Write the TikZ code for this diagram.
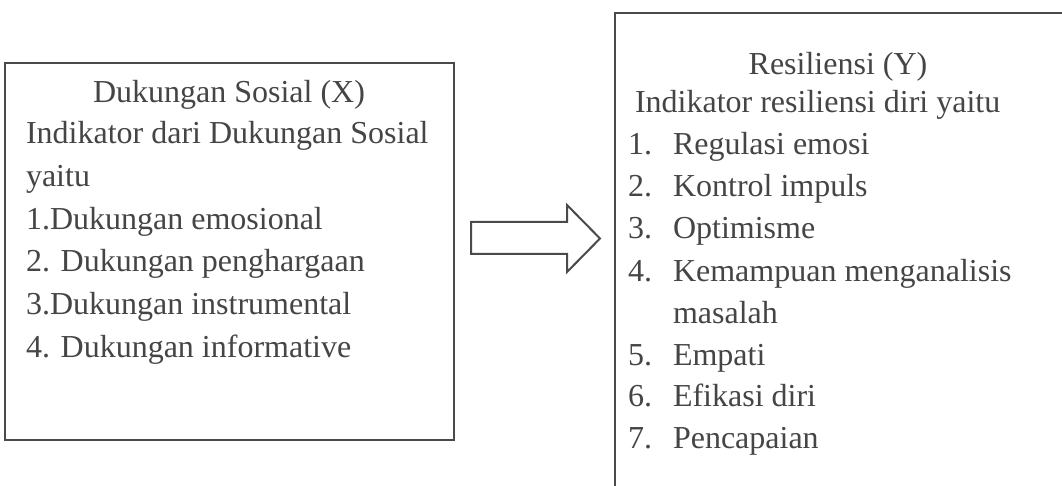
\documentclass[tikz,border=0pt]{standalone}
\usepackage{fontspec}
\setmainfont{Liberation Serif}
\definecolor{txt}{HTML}{454545}
\definecolor{edge}{HTML}{4A4A4A}
\begin{document}
\begin{tikzpicture}[x=1pt,y=1pt,
  every node/.style={inner sep=0pt, outer sep=0pt, text=txt, font=\fontsize{32}{38}\selectfont},
  panel/.style={draw=edge, line width=2.3pt, anchor=north west, fill=none},
  lt/.style={anchor=base west},
  ct/.style={anchor=base},
  blockarrow/.style={draw=edge, line width=2pt, line join=miter}]
\useasboundingbox (0,0) rectangle (1062,-486);
\clip (0,0) rectangle (1062,-486);
\fill[white] (0,0) rectangle (1062,-486);
% boxes
\node[panel, minimum width=449pt, minimum height=377pt] (lbox) at (5,-63) {};
\node[panel, minimum width=470pt, minimum height=500pt] (rbox) at (615,-13) {};
% arrow
\coordinate (a1) at (471,-222);
\coordinate (a2) at (567,-222);
\coordinate (a3) at (567,-205);
\coordinate (a4) at (600,-238.5);
\coordinate (a5) at (567,-272);
\coordinate (a6) at (567,-254);
\coordinate (a7) at (471,-254);
\draw[blockarrow] (a1) -- (a2) -- (a3) -- (a4) -- (a5) -- (a6) -- (a7) -- cycle;
% left text
\node[ct] (lt0) at (229,-103) {Dukungan Sosial (X)};
\node[lt] (lt1) at (26,-144) {Indikator dari Dukungan Sosial};
\node[lt] (lt2) at (26,-187) {yaitu};
\node[lt] (lt3) at (26,-230) {1.Dukungan emosional};
\node[lt] (lt4) at (26,-272) {2. Dukungan penghargaan};
\node[lt] (lt5) at (26,-314) {3.Dukungan instrumental};
\node[lt] (lt6) at (26,-357) {4. Dukungan informative};
% right text
\node[ct] (rt0) at (838,-75) {Resiliensi (Y)};
\node[lt] (rt1) at (635,-113) {Indikator resiliensi diri yaitu};
\node[lt] (n1) at (628,-155) {1.};
\node[lt] (r1) at (673,-155) {Regulasi emosi};
\node[lt] (n2) at (628,-197) {2.};
\node[lt] (r2) at (673,-197) {Kontrol impuls};
\node[lt] (n3) at (628,-239) {3.};
\node[lt] (r3) at (673,-239) {Optimisme};
\node[lt] (n4) at (628,-281) {4.};
\node[lt] (r4) at (673,-281) {Kemampuan menganalisis};
\node[lt] (r4b) at (673,-323) {masalah};
\node[lt] (n5) at (628,-365) {5.};
\node[lt] (r5) at (673,-365) {Empati};
\node[lt] (n6) at (628,-406) {6.};
\node[lt] (r6) at (673,-406) {Efikasi diri};
\node[lt] (n7) at (628,-448) {7.};
\node[lt] (r7) at (673,-448) {Pencapaian};
\end{tikzpicture}
\end{document}
